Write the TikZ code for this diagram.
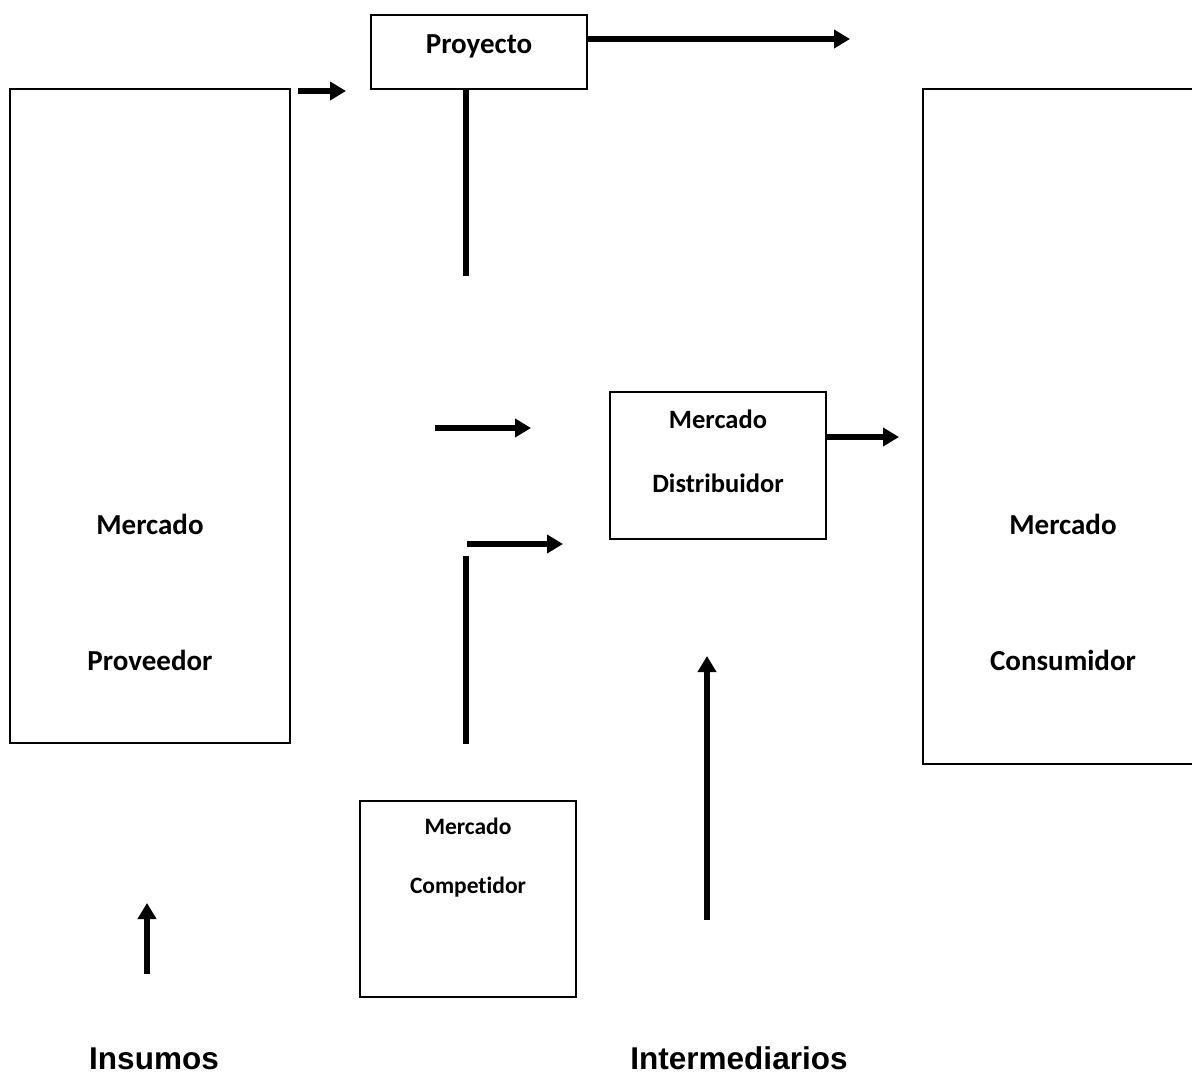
\documentclass[tikz,border=0pt]{standalone}
\usepackage{fontspec}
\setmainfont[Ligatures=NoCommon]{Carlito}
\newfontfamily\headfont{Liberation Sans}
\usetikzlibrary{arrows.meta}
\begin{document}
\begin{tikzpicture}[x=1pt,y=-1pt,
  box/.style={draw,line width=1.5pt,inner sep=0pt},
  flow/.style={line width=5.5pt,-{Triangle[length=16pt,width=18pt]}},
  bar/.style={line width=5.5pt},
  lbl/.style={anchor=base,inner sep=0pt,font=\bfseries\fontsize{29}{32}\selectfont},
  lblsmall/.style={anchor=base,inner sep=0pt,font=\bfseries\fontsize{26.5}{30}\selectfont},
  lbltiny/.style={anchor=base,inner sep=0pt,font=\bfseries\fontsize{23.5}{27}\selectfont},
  head/.style={anchor=base,inner sep=0pt,font=\headfont\bfseries\fontsize{31.5}{36}\selectfont}]
\clip (0,0) rectangle (1192,1074);
\fill[white] (0,0) rectangle (1192,1074);

% boxes
\node[box,minimum width=216pt,minimum height=74pt] (proy) at (479,52) {};
\node[box,minimum width=280pt,minimum height=654pt] (prov) at (150,416) {};
\node[box,minimum width=216pt,minimum height=147pt] (dist) at (718,465.5) {};
\node[box,minimum width=216pt,minimum height=196pt] (comp) at (468,899) {};
% consumer market box runs past the right edge
\coordinate (consA) at (1200,89);
\coordinate (consB) at (923,89);
\coordinate (consC) at (923,764);
\coordinate (consD) at (1200,764);
\draw[line width=1.5pt] (consA) -- (consB) -- (consC) -- (consD);

% labels
\node[lbl] (tproy) at (479,53) {Proyecto};
\node[lbl] (tprov1) at (150,534) {Mercado};
\node[lbl] (tprov2) at (150,670) {Proveedor};
\node[lbl] (tcons1) at (1063,534) {Mercado};
\node[lbl] (tcons2) at (1063,670) {Consumidor};
\node[lblsmall] (tdist1) at (718,428) {Mercado};
\node[lblsmall] (tdist2) at (718,492) {Distribuidor};
\node[lbltiny] (tcomp1) at (468,834) {Mercado};
\node[lbltiny] (tcomp2) at (468,893) {Competidor};
\node[head] (tins) at (154,1069) {Insumos};
\node[head] (tint) at (739,1069) {Intermediarios};

% arrow and bar end points
\coordinate (a1s) at (588,39);   \coordinate (a1e) at (850,39);
\coordinate (a2s) at (298,91);   \coordinate (a2e) at (346,91);
\coordinate (b1s) at (466,89);   \coordinate (b1e) at (466,276);
\coordinate (a3s) at (435,428);  \coordinate (a3e) at (531,428);
\coordinate (a4s) at (467,544);  \coordinate (a4e) at (563,544);
\coordinate (b2s) at (466,556);  \coordinate (b2e) at (466,744);
\coordinate (a5s) at (827,437);  \coordinate (a5e) at (899,437);
\coordinate (a6s) at (147,974);  \coordinate (a6e) at (147,903);
\coordinate (a7s) at (707,920);  \coordinate (a7e) at (707,656);

\draw[flow] (a1s) -- (a1e);
\draw[flow] (a2s) -- (a2e);
\draw[bar]  (b1s) -- (b1e);
\draw[flow] (a3s) -- (a3e);
\draw[flow] (a4s) -- (a4e);
\draw[bar]  (b2s) -- (b2e);
\draw[flow] (a5s) -- (a5e);
\draw[flow] (a6s) -- (a6e);
\draw[flow] (a7s) -- (a7e);
\end{tikzpicture}
\end{document}
